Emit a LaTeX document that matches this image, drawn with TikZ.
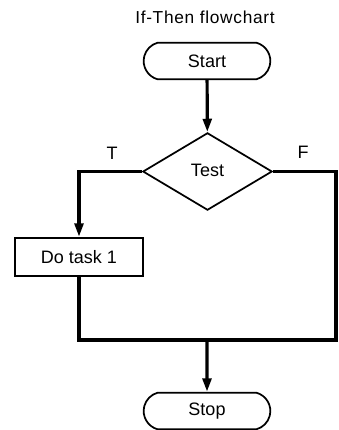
\documentclass[tikz,border=0pt]{standalone}
\usepackage{fontspec}
\setmainfont{Liberation Sans}
\newfontfamily\titlefont[LetterSpace=4]{Liberation Sans}
\usepackage{tikz}
\usetikzlibrary{shapes.geometric}
\usetikzlibrary{shapes.misc}
\usetikzlibrary{arrows.meta}

\begin{document}
\begin{tikzpicture}[
  x=0.75pt, y=-0.75pt,
  txt/.style={font=\fontsize{13.5}{16}\selectfont},
  term/.style={txt, draw, rounded rectangle, rounded rectangle arc length=150, line width=1.3pt, minimum width=95pt, minimum height=27.5pt, inner sep=0pt},
  decision/.style={txt, draw, diamond, line width=1.3pt, minimum width=97pt, minimum height=58pt, inner sep=0pt},
  process/.style={txt, draw, rectangle, line width=1.3pt, minimum width=96.5pt, minimum height=29pt, inner sep=0pt},
  line/.style={line width=2.4pt},
  flow/.style={line, -{Triangle[length=10pt, width=6.5pt]}}
]
\useasboundingbox (0,0) rectangle (339,430);

\node[font=\titlefont\fontsize{13}{15}\selectfont] (title) at (205,17) {If-Then flowchart};

\node[term]     (start) at (207,61)    {Start};
\node[decision] (test)  at (207.5,171.5) {\raisebox{2pt}{Test}};
\node[process]  (task)  at (79,257)    {Do task 1};
\node[term]     (stop)  at (207,411)   {Stop};

\node[txt] (tlabel) at (112,153) {T};
\node[txt] (flabel) at (303,152) {F};

\coordinate (join)    at (207,340);
\coordinate (fcorner) at (336,340);

% main flow
\draw[flow] (start) -- (test);
\draw[flow] (test.west) -| (task.north);
\draw[line] (task.south) |- (join);
\draw[line] (test.east) -| (fcorner) -- (join);
\draw[flow] (join) -- (stop);
\end{tikzpicture}
\end{document}
